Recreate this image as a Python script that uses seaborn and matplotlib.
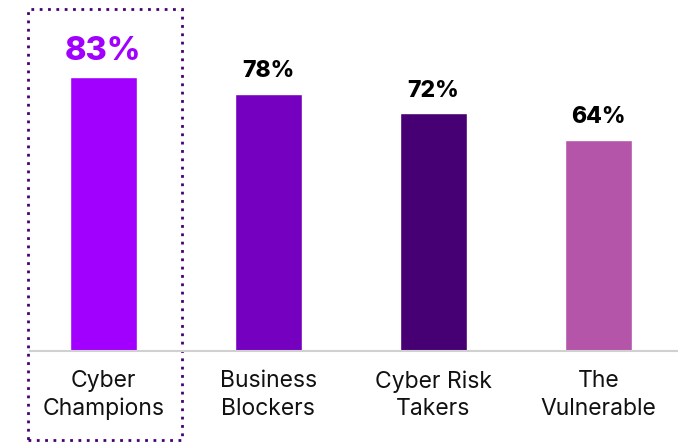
"""Cyber resilience groups bar chart"""

import pandas as pd
import matplotlib.pyplot as plt
import seaborn as sns
from matplotlib.patches import Rectangle

categories = ['Cyber\nChampions', 'Business\nBlockers', 'Cyber Risk\nTakers', 'The\nVulnerable']
values = [83, 78, 72, 64]
bar_colors = ['#A100FF', '#7500C0', '#460073', '#B455AA']
label_colors = ['#A100FF', '#000000', '#000000', '#000000']

df = pd.DataFrame({'group': categories, 'pct': values})

sns.set_style('white')
plt.rcParams['font.family'] = ['Inter', 'DejaVu Sans']

fig = plt.figure(figsize=(6.78, 4.42), dpi=100)
ax = fig.add_axes([0, 91 / 442, 1, 330 / 442])

sns.barplot(data=df, x='group', y='pct', hue='group', palette=bar_colors,
            legend=False, width=0.406, saturation=1, ax=ax)

ax.set_xlim(-0.626, 3.483)
ax.set_ylim(0, 100)
ax.set_xlabel('')
ax.set_ylabel('')
ax.set_yticks([])
for side in ['top', 'right', 'left']:
    ax.spines[side].set_visible(False)
ax.spines['bottom'].set_color('#d0d0d0')
ax.spines['bottom'].set_linewidth(1.5)
ax.spines['bottom'].set_bounds(-0.445, 3.483)
ax.tick_params(axis='x', length=0, pad=14, labelsize=16.5, labelcolor='#111111')
for lbl in ax.get_xticklabels():
    lbl.set_linespacing(1.3)

# value labels on top of bars
for i, (v, c) in enumerate(zip(values, label_colors)):
    size = 23.5 if i == 0 else 16.5
    ax.annotate(f'{v}%', xy=(i, v), xytext=(0, 12), textcoords='offset points',
                ha='center', va='baseline', fontsize=size, fontweight='heavy',
                color=c)

# dotted highlight box around the first group
box = Rectangle((-0.458, -27), 0.934, 130.6, fill=False, edgecolor='#460073',
                linestyle=(0, (1, 2)), linewidth=2, clip_on=False)
ax.add_patch(box)

fig.savefig('out.png', dpi=100)
